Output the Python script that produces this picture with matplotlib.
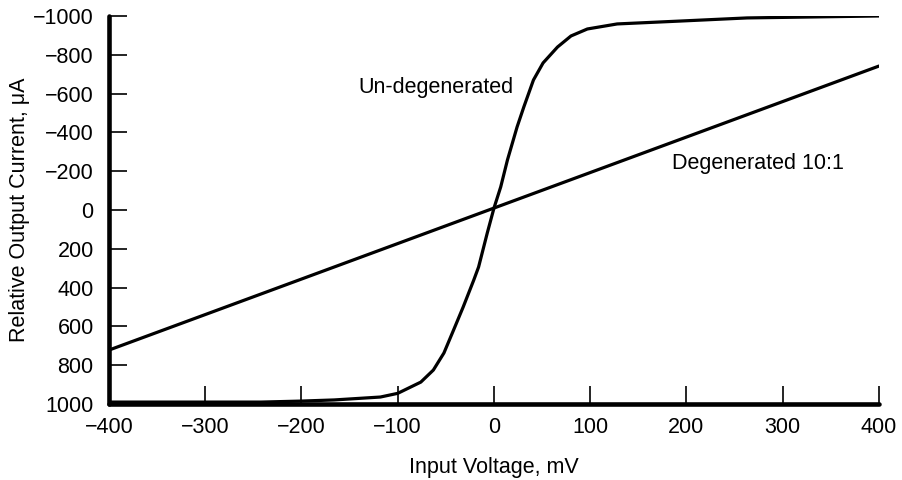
import matplotlib
matplotlib.use("Agg")
import matplotlib.pyplot as plt

plt.rcParams['font.family'] = ['Liberation Sans', 'DejaVu Sans']

# Un-degenerated transfer curve (mV, uA)
undeg_x = [-400, -305, -242, -201, -166, -118, -100, -76, -63, -52, -42, -32, -21, -16, -7, 0,
           7, 14, 24, 31, 41, 51, 66, 80, 97, 128, 194, 263, 400]
undeg_y = [990, 990, 990, 985, 979, 964, 945, 887, 825, 737, 619, 500, 361, 294, 119, -10,
           -119, -258, -428, -531, -670, -758, -840, -897, -933, -959, -974, -990, -1000]

# Degenerated 10:1 (straight line)
deg_x = [-400, 0, 400]
deg_y = [722, -10, -742]

xticks = [-400, -300, -200, -100, 0, 100, 200, 300, 400]
yticks = [-1000, -800, -600, -400, -200, 0, 200, 400, 600, 800, 1000]

fs = 15.5

fig = plt.figure(figsize=(9.02, 4.8), dpi=100)
ax = fig.add_axes([0.1208, 0.1583, 0.8537, 0.8084])

ax.plot(undeg_x, undeg_y, color='black', lw=2.3, solid_capstyle='round', solid_joinstyle='round')
ax.plot(deg_x, deg_y, color='black', lw=2.3, solid_capstyle='round')

ax.set_xlim(-400, 400)
ax.set_ylim(1000, -1000)
ax.set_xticks(xticks)
ax.set_yticks(yticks)

for s in ['top', 'right']:
    ax.spines[s].set_visible(False)
for s in ['left', 'bottom']:
    ax.spines[s].set_linewidth(3.3)
    ax.spines[s].set_capstyle('round')

ax.tick_params(axis='both', direction='in', length=13, width=1.2, labelsize=fs, color='black')
ax.tick_params(axis='y', pad=11)
ax.tick_params(axis='x', pad=9)

ax.set_xlabel('Input Voltage, mV', fontsize=fs, labelpad=14)
ax.set_ylabel('Relative Output Current, μA', fontsize=fs, labelpad=2)

ax.text(-141, -629, 'Un-degenerated', fontsize=fs, va='center', ha='left')
ax.text(185, -242, 'Degenerated 10:1', fontsize=fs, va='center', ha='left')

fig.savefig('out.png', dpi=100)
